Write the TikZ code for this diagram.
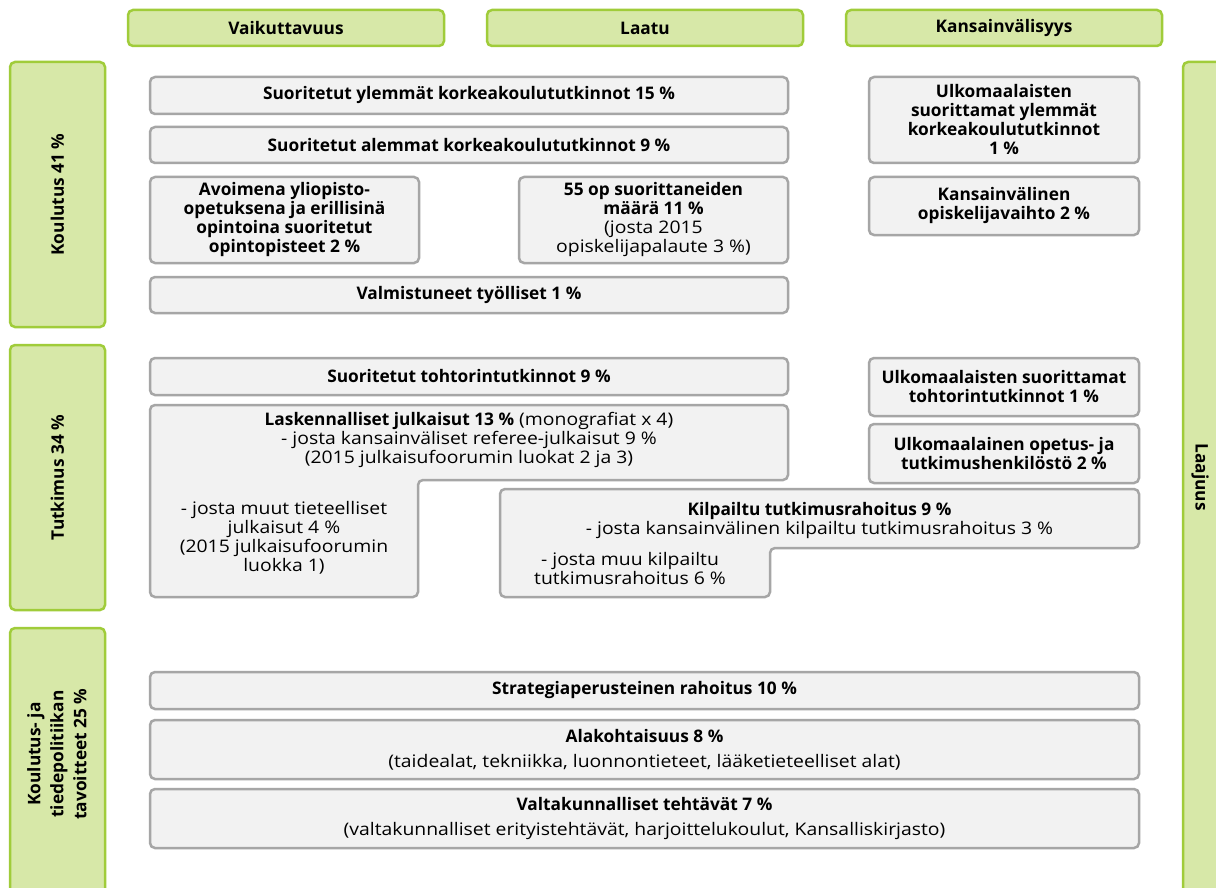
\documentclass[tikz,border=0pt]{standalone}
\usepackage{fontspec}
\setmainfont{Open Sans}[FakeStretch=1.12, BoldFeatures={FakeStretch=1.0}]
\definecolor{gfill}{RGB}{215,232,168}
\definecolor{gline}{RGB}{160,204,58}
\definecolor{bfill}{RGB}{242,242,242}
\definecolor{bline}{RGB}{166,166,166}
\tikzset{
  basefont/.style={font=\fontsize{17.3}{19}\selectfont},
  greenbox/.style={draw=gline, fill=gfill, line width=2.5pt, rounded corners=5pt, inner sep=0pt, basefont, align=center},
  graybox/.style={draw=bline, fill=bfill, line width=2.5pt, rounded corners=5pt, inner sep=0pt, basefont, align=center},
  lbl/.style={inner sep=0pt, basefont, align=center},
}
\begin{document}
\begin{tikzpicture}[x=1pt,y=-1pt]
\useasboundingbox (0,0) rectangle (1216,888);
\clip (0,0) rectangle (1216,888);
\fill[white] (0,0) rectangle (1216,888);
% headers
\node[greenbox, minimum width=316, minimum height=36] (h1) at (286,28) {\bfseries Vaikuttavuus};
\node[greenbox, minimum width=316, minimum height=36] (h2) at (645,28) {\bfseries Laatu};
\node[greenbox, minimum width=316, minimum height=36] (h3) at (1004,28) {\bfseries Kansainvälisyys};
% left side boxes
\node[greenbox, minimum width=95, minimum height=265] (s1) at (57.5,194.5) {};
\node[lbl, rotate=90] (s1t) at (57.5,194.5) {\bfseries Koulutus 41 \%};
\node[greenbox, minimum width=95, minimum height=265] (s2) at (57.5,477.5) {};
\node[lbl, rotate=90] (s2t) at (57.5,477.5) {\bfseries Tutkimus 34 \%};
\node[greenbox, minimum width=95, minimum height=290] (s3) at (57.5,773) {};
\node[lbl, rotate=90, font=\fontsize{17.3}{23}\selectfont] (s3t) at (57,754) {\bfseries Koulutus- ja\\\bfseries tiedepolitiikan\\\bfseries tavoitteet 25 \%};
% right side
\node[greenbox, minimum width=44, minimum height=850] (r1) at (1205,487) {};
\node[lbl, rotate=-90] (r1t) at (1200,477) {\bfseries Laajuus};
% Koulutus row
\node[graybox, minimum width=638, minimum height=37] (k1) at (469,95.5) {\bfseries Suoritetut ylemmät korkeakoulututkinnot 15 \%};
\node[graybox, minimum width=638, minimum height=36] (k2) at (469,145) {\bfseries Suoritetut alemmat korkeakoulututkinnot 9 \%};
\node[graybox, minimum width=269, minimum height=86] (k3) at (284.5,220) {\bfseries Avoimena yliopisto-\\\bfseries opetuksena ja erillisinä\\\bfseries opintoina suoritetut\\\bfseries opintopisteet 2 \%};
\node[graybox, minimum width=269, minimum height=86] (k4) at (653.5,220) {\bfseries 55 op suorittaneiden\\\bfseries määrä 11 \%\\(josta 2015\\opiskelijapalaute 3 \%)};
\node[graybox, minimum width=638, minimum height=36] (k5) at (469,295) {\bfseries Valmistuneet työlliset 1 \%};
\node[graybox, minimum width=270, minimum height=86] (k6) at (1004,120) {\bfseries Ulkomaalaisten\\\bfseries suorittamat ylemmät\\\bfseries korkeakoulututkinnot\\\bfseries 1 \%};
\node[graybox, minimum width=270, minimum height=58] (k7) at (1004,206) {\bfseries Kansainvälinen\\\bfseries opiskelijavaihto 2 \%};
% Tutkimus row
\node[graybox, minimum width=638, minimum height=37] (t1) at (469,376.5) {\bfseries Suoritetut tohtorintutkinnot 9 \%};
\draw[draw=bline, fill=bfill, line width=2.5pt, rounded corners=5pt]
  (150,405) -- (788,405) -- (788,480) -- (418,480) -- (418,597) -- (150,597) -- cycle;
\node[lbl] (t2a) at (469,440) {\textbf{Laskennalliset julkaisut 13 \%} (monografiat x 4)\\- josta kansainväliset referee-julkaisut 9 \%\\(2015 julkaisufoorumin luokat 2 ja 3)};
\node[lbl] (t2b) at (284,538) {- josta muut tieteelliset\\julkaisut 4 \%\\(2015 julkaisufoorumin\\luokka 1)};
\draw[draw=bline, fill=bfill, line width=2.5pt, rounded corners=5pt]
  (500,489) -- (1139,489) -- (1139,548) -- (770,548) -- (770,597) -- (500,597) -- cycle;
\node[lbl] (t3a) at (819.5,521) {\bfseries Kilpailtu tutkimusrahoitus 9 \%\\- josta kansainvälinen kilpailtu tutkimusrahoitus 3 \%};
\node[lbl] (t3b) at (630,569) {- josta muu kilpailtu\\tutkimusrahoitus 6 \%};
\node[graybox, minimum width=270, minimum height=58] (t4) at (1004,387) {\bfseries Ulkomaalaisten suorittamat\\\bfseries tohtorintutkinnot 1 \%};
\node[graybox, minimum width=270, minimum height=59] (t5) at (1004,453.5) {\bfseries Ulkomaalainen opetus- ja\\\bfseries tutkimushenkilöstö 2 \%};
% policy row
\node[graybox, minimum width=989, minimum height=37] (p1) at (644.5,690.5) {\bfseries Strategiaperusteinen rahoitus 10 \%};
\node[graybox, minimum width=989, minimum height=59] (p2) at (644.5,749.5) {\bfseries Alakohtaisuus 8 \%\\[6pt](taidealat, tekniikka, luonnontieteet, lääketieteelliset alat)};
\node[graybox, minimum width=989, minimum height=59] (p3) at (644.5,818.5) {\bfseries Valtakunnalliset tehtävät 7 \%\\[6pt](valtakunnalliset erityistehtävät, harjoittelukoulut, Kansalliskirjasto)};
\end{tikzpicture}
\end{document}
